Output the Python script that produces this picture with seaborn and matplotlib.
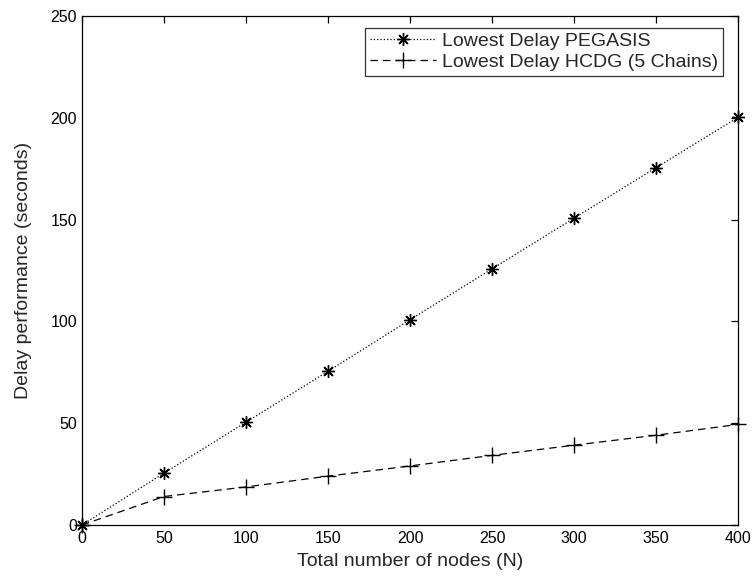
import matplotlib
matplotlib.use("Agg")
import matplotlib.pyplot as plt
import seaborn as sns
import pandas as pd

nodes = [0, 50, 100, 150, 200, 250, 300, 350, 400]
pegasis = [0, 25.5, 50.5, 75.5, 100.8, 125.8, 150.7, 175.5, 200.2]
hcdg = [0, 14.0, 18.7, 24.0, 29.0, 34.2, 39.2, 44.1, 49.4]
xticks = [0, 50, 100, 150, 200, 250, 300, 350, 400]
yticks = [0, 50, 100, 150, 200, 250]

sns.set_style("white")
plt.rcParams['font.family'] = ['Liberation Sans', 'DejaVu Sans']

fig = plt.figure(figsize=(7.55, 5.8), dpi=100)
ax = fig.add_axes([0.1086, 0.0948, 0.9775 - 0.1086, 0.9724 - 0.0948])

df = pd.DataFrame({"N": nodes, "pegasis": pegasis, "hcdg": hcdg})
sns.lineplot(data=df, x="N", y="pegasis", ax=ax, color="black", linestyle=":",
             linewidth=0.9, marker=(8, 2, 0), markersize=9, markeredgewidth=1.0,
             markeredgecolor="black", markerfacecolor="black",
             label="Lowest Delay PEGASIS", clip_on=False)
sns.lineplot(data=df, x="N", y="hcdg", ax=ax, color="black", linestyle=(0, (6, 4)),
             linewidth=0.9, marker="+", markersize=12, markeredgewidth=1.0,
             markeredgecolor="black", markerfacecolor="black",
             label="Lowest Delay HCDG (5 Chains)", clip_on=False)

ax.set_xlim(0, 400)
ax.set_ylim(0, 250)
ax.set_xticks(xticks)
ax.set_yticks(yticks)
ax.tick_params(direction="in", top=True, right=True, length=5, width=0.9,
               labelsize=11.5, colors="black")
ax.tick_params(axis="x", pad=4)
for s in ax.spines.values():
    s.set_visible(True)
    s.set_color("black")
    s.set_linewidth(0.9)
ax.set_xlabel("Total number of nodes (N)", fontsize=14, labelpad=5)
ax.set_ylabel("Delay performance (seconds)", fontsize=14, labelpad=13)

leg = ax.legend(loc="upper right", bbox_to_anchor=(723 / 755, 1 - 27.7 / 580),
                bbox_transform=fig.transFigure,
                fontsize=14, frameon=True, fancybox=False, edgecolor="black",
                borderpad=0.25, labelspacing=0.15, handlelength=3.4, handletextpad=0.3,
                borderaxespad=0.0)
leg.get_frame().set_linewidth(0.9)

fig.savefig("out.png", dpi=100)
